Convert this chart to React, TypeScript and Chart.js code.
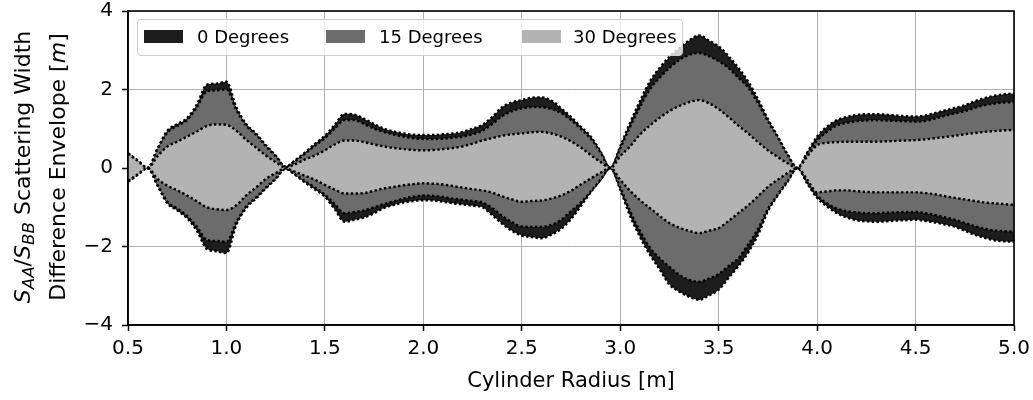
import React, { useEffect, useRef } from 'react';
import { Chart, registerables } from 'chart.js';

Chart.register(...registerables);

// Cylinder radius [m]
const radius = [
  0.5, 0.55, 0.6, 0.65, 0.7, 0.75, 0.8, 0.85, 0.9, 0.95, 1.0, 1.05, 1.1, 1.15, 1.2, 1.25, 1.3,
  1.35, 1.4, 1.45, 1.5, 1.55, 1.6, 1.65, 1.7, 1.75, 1.8, 1.85, 1.9, 1.95, 2.0, 2.05, 2.1, 2.15,
  2.2, 2.25, 2.3, 2.35, 2.4, 2.45, 2.5, 2.55, 2.6, 2.65, 2.7, 2.75, 2.8, 2.85, 2.9, 2.95, 3.0,
  3.05, 3.1, 3.15, 3.2, 3.25, 3.3, 3.35, 3.4, 3.45, 3.5, 3.55, 3.6, 3.65, 3.7, 3.75, 3.8, 3.85,
  3.9, 3.95, 4.0, 4.05, 4.1, 4.15, 4.2, 4.25, 4.3, 4.35, 4.4, 4.45, 4.5, 4.55, 4.6, 4.65, 4.7,
  4.75, 4.8, 4.85, 4.9, 4.95, 5.0,
];

const deg0Upper = [
  0.38, 0.19, 0, 0.5, 0.95, 1.12, 1.27, 1.62, 2.12, 2.15, 2.2, 1.55, 1.12, 0.88, 0.58, 0.32, 0.03,
  0.2, 0.4, 0.62, 0.82, 1.1, 1.38, 1.36, 1.25, 1.12, 1.0, 0.93, 0.88, 0.85, 0.84, 0.84, 0.86, 0.88,
  0.92, 1.0, 1.1, 1.3, 1.55, 1.67, 1.73, 1.79, 1.8, 1.72, 1.52, 1.3, 1.05, 0.8, 0.42, 0,
  0.55, 1.15, 1.7, 2.2, 2.55, 2.83, 3.05, 3.25, 3.38, 3.25, 3.1, 2.85, 2.55, 2.2, 1.75, 1.25, 0.8, 0.35, 0,
  0.4, 0.8, 1.05, 1.22, 1.3, 1.35, 1.37, 1.37, 1.36, 1.34, 1.32, 1.31, 1.34, 1.4, 1.47, 1.53, 1.6,
  1.7, 1.78, 1.84, 1.88, 1.9,
];
const deg0Lower = [
  -0.35, -0.17, 0, -0.45, -0.9, -1.08, -1.28, -1.6, -2.06, -2.12, -2.17, -1.45, -1.02, -0.78, -0.52, -0.28, -0.02,
  -0.18, -0.37, -0.55, -0.73, -1.05, -1.37, -1.32, -1.26, -1.15, -1.02, -0.94, -0.88, -0.84, -0.82, -0.83, -0.86, -0.9,
  -0.93, -0.96, -1.0, -1.2, -1.42, -1.6, -1.72, -1.76, -1.79, -1.7, -1.55, -1.3, -0.97, -0.62, -0.3, 0,
  -0.55, -1.22, -1.75, -2.2, -2.58, -2.97, -3.15, -3.28, -3.36, -3.25, -3.1, -2.8, -2.5, -2.15, -1.7, -1.1, -0.7, -0.35, 0,
  -0.4, -0.76, -0.98, -1.15, -1.26, -1.33, -1.36, -1.37, -1.36, -1.34, -1.33, -1.32, -1.35, -1.39, -1.44, -1.5, -1.6,
  -1.7, -1.78, -1.84, -1.87, -1.88,
];

const deg15Upper = [
  0.37, 0.18, 0, 0.48, 0.9, 1.07, 1.22, 1.55, 1.95, 1.98, 2.0, 1.48, 1.08, 0.85, 0.56, 0.3, 0.03,
  0.18, 0.37, 0.57, 0.76, 1.0, 1.22, 1.22, 1.12, 1.0, 0.92, 0.85, 0.8, 0.76, 0.74, 0.74, 0.75, 0.77,
  0.8, 0.86, 0.95, 1.12, 1.32, 1.45, 1.52, 1.55, 1.55, 1.5, 1.4, 1.22, 1.0, 0.75, 0.4, 0,
  0.5, 1.05, 1.55, 2.0, 2.3, 2.55, 2.75, 2.88, 2.93, 2.85, 2.72, 2.55, 2.3, 2.05, 1.65, 1.2, 0.78, 0.33, 0,
  0.37, 0.7, 0.92, 1.08, 1.15, 1.19, 1.21, 1.22, 1.21, 1.2, 1.19, 1.18, 1.2, 1.26, 1.33, 1.39, 1.45,
  1.53, 1.6, 1.64, 1.67, 1.68,
];
const deg15Lower = [
  -0.34, -0.16, 0, -0.43, -0.86, -1.03, -1.22, -1.5, -1.83, -1.86, -1.88, -1.38, -0.98, -0.75, -0.5, -0.27, -0.02,
  -0.17, -0.34, -0.5, -0.68, -0.92, -1.15, -1.12, -1.08, -1.0, -0.92, -0.85, -0.78, -0.73, -0.7, -0.71, -0.74, -0.78,
  -0.81, -0.84, -0.88, -1.02, -1.22, -1.38, -1.49, -1.5, -1.5, -1.45, -1.32, -1.1, -0.88, -0.6, -0.3, 0,
  -0.5, -1.1, -1.6, -2.02, -2.3, -2.52, -2.72, -2.85, -2.9, -2.82, -2.7, -2.5, -2.3, -1.95, -1.55, -1.05, -0.68, -0.33, 0,
  -0.37, -0.7, -0.9, -1.03, -1.1, -1.13, -1.15, -1.15, -1.14, -1.13, -1.12, -1.12, -1.15, -1.2, -1.26, -1.32, -1.4,
  -1.48, -1.55, -1.59, -1.61, -1.62,
];

const deg30Upper = [
  0.36, 0.18, 0, 0.3, 0.55, 0.67, 0.8, 0.93, 1.07, 1.11, 1.1, 0.95, 0.72, 0.52, 0.32, 0.15, 0.01,
  0.1, 0.22, 0.32, 0.45, 0.6, 0.7, 0.7, 0.66, 0.6, 0.55, 0.51, 0.48, 0.46, 0.45, 0.46, 0.48, 0.51,
  0.55, 0.62, 0.7, 0.76, 0.82, 0.86, 0.88, 0.91, 0.92, 0.88, 0.8, 0.68, 0.52, 0.33, 0.15, 0,
  0.3, 0.55, 0.85, 1.08, 1.28, 1.45, 1.58, 1.68, 1.73, 1.65, 1.5, 1.3, 1.08, 0.88, 0.66, 0.45, 0.28, 0.12, 0,
  0.3, 0.58, 0.64, 0.66, 0.67, 0.67, 0.67, 0.67, 0.68, 0.69, 0.7, 0.71, 0.73, 0.76, 0.79, 0.82, 0.86,
  0.89, 0.92, 0.94, 0.96, 0.97,
];
const deg30Lower = [
  -0.33, -0.16, 0, -0.28, -0.45, -0.57, -0.7, -0.85, -1.0, -1.05, -1.07, -0.95, -0.7, -0.5, -0.28, -0.13, -0.01,
  -0.1, -0.2, -0.3, -0.43, -0.55, -0.65, -0.65, -0.64, -0.58, -0.52, -0.48, -0.44, -0.41, -0.39, -0.4, -0.42, -0.46,
  -0.5, -0.54, -0.57, -0.63, -0.72, -0.8, -0.86, -0.84, -0.83, -0.78, -0.7, -0.58, -0.42, -0.27, -0.12, 0,
  -0.3, -0.58, -0.82, -1.02, -1.22, -1.4, -1.52, -1.6, -1.66, -1.6, -1.53, -1.35, -1.15, -0.95, -0.72, -0.48, -0.3, -0.13, 0,
  -0.3, -0.62, -0.6, -0.57, -0.57, -0.59, -0.61, -0.62, -0.62, -0.62, -0.62, -0.62, -0.64, -0.67, -0.72, -0.76, -0.8,
  -0.84, -0.88, -0.9, -0.92, -0.94,
];

const seriesNames = ['0 Degrees', '15 Degrees', '30 Degrees'];
const seriesColors = ['#1d1d1d', '#6c6c6c', '#b3b3b3'];
const xTicks = [0.5, 1.0, 1.5, 2.0, 2.5, 3.0, 3.5, 4.0, 4.5, 5.0];
const yTicks = [-4, -2, 0, 2, 4];

const FONT = '"DejaVu Sans", "Liberation Sans", sans-serif';

const framePlugin = {
  id: 'frame',
  afterDraw(chart: any) {
    const { ctx, chartArea: a } = chart;
    ctx.save();
    ctx.strokeStyle = '#000';
    ctx.lineWidth = 1.6;
    ctx.strokeRect(a.left, a.top, a.right - a.left, a.bottom - a.top);
    ctx.restore();
  },
};

export default function App() {
  const canvasRef = useRef<HTMLCanvasElement | null>(null);

  useEffect(() => {
    const canvas = canvasRef.current;
    if (!canvas) return;
    const pts = (ys: number[]) => radius.map((x, i) => ({ x, y: ys[i] }));
    const mk = (ys: number[], color: string, fill: any, order: number) => ({
      label: '',
      data: pts(ys),
      borderColor: '#000',
      borderWidth: 2.4,
      borderDash: [2.4, 2.4],
      backgroundColor: color,
      fill,
      pointRadius: 0,
      order,
      cubicInterpolationMode: 'monotone',
    });
    const pairs = [
      [deg0Upper, deg0Lower],
      [deg15Upper, deg15Lower],
      [deg30Upper, deg30Lower],
    ];
    const datasets: any[] = [];
    pairs.forEach((p, i) => {
      datasets.push(mk(p[0], seriesColors[i], '+1', 6 - i * 2));
      datasets.push(mk(p[1], seriesColors[i], false, 5 - i * 2));
    });

    const tickFont = { family: FONT, size: 20 };
    const chart = new Chart(canvas, {
      type: 'line',
      data: { datasets },
      plugins: [framePlugin],
      options: {
        animation: false,
        responsive: false,
        devicePixelRatio: 1,
        layout: { padding: { left: 0, right: 19, top: 11, bottom: 0 } },
        plugins: {
          legend: { display: false },
          tooltip: { enabled: false },
        },
        scales: {
          x: {
            type: 'linear',
            min: 0.5,
            max: 5.0,
            z: 1,
            afterFit: (s: any) => {
              s.height = 75;
              s.paddingLeft = 0;
              s.paddingRight = 0;
            },
            afterBuildTicks: (s: any) => {
              s.ticks = xTicks.map((v) => ({ value: v }));
            },
            ticks: {
              callback: (v: any) => Number(v).toFixed(1),
              color: '#000',
              font: tickFont,
              padding: 6,
              maxRotation: 0,
              autoSkip: false,
            },
            grid: {
              color: '#b0b0b0',
              lineWidth: 1,
              tickColor: '#000',
              tickLength: 6,
              tickWidth: 1.5,
            },
            border: { display: true, color: '#000', width: 1.6 },
            title: {
              display: true,
              text: 'Cylinder Radius [m]',
              color: '#000',
              font: { family: FONT, size: 21 },
              padding: { top: 0, bottom: 6 },
            },
          },
          y: {
            type: 'linear',
            min: -4,
            max: 4,
            z: 1,
            afterFit: (s: any) => {
              s.width = 128;
              s.paddingTop = 0;
              s.paddingBottom = 0;
            },
            afterBuildTicks: (s: any) => {
              s.ticks = yTicks.map((v) => ({ value: v }));
            },
            ticks: {
              callback: (v: any) => (Number(v) < 0 ? '\u2212' + Math.abs(Number(v)) : String(v)),
              color: '#000',
              font: tickFont,
              padding: 9,
              autoSkip: false,
            },
            grid: {
              color: '#b0b0b0',
              lineWidth: 1,
              tickColor: '#000',
              tickLength: 6,
              tickWidth: 1.5,
            },
            border: { display: true, color: '#000', width: 1.6 },
          },
        },
      } as any,
    } as any);
    return () => chart.destroy();
  }, []);

  const legendSwatchLeft = [6, 188, 384];
  const legendTextLeft = [59, 241, 435];

  const sub: React.CSSProperties = { fontSize: '0.76em', verticalAlign: '-0.26em', fontStyle: 'italic' };

  return (
    <div style={{ position: 'fixed', left: 0, top: 0, width: 1033, height: 400, background: '#fff', fontFamily: FONT }}>
      <canvas ref={canvasRef} width={1033} height={400} style={{ width: 1033, height: 400, display: 'block' }} />
      <div
        style={{
          position: 'absolute',
          left: 137,
          top: 19,
          width: 546,
          height: 37,
          boxSizing: 'border-box',
          border: '1px solid #cccccc',
          borderRadius: 4,
          background: 'rgba(255,255,255,0.8)',
          color: '#000',
          fontSize: 18,
        }}
      >
        {seriesNames.map((name, i) => (
          <React.Fragment key={name}>
            <div
              style={{
                position: 'absolute',
                left: legendSwatchLeft[i],
                top: 10,
                width: 39,
                height: 13,
                background: seriesColors[i],
              }}
            />
            <div style={{ position: 'absolute', left: legendTextLeft[i], top: 5, lineHeight: '24px', whiteSpace: 'nowrap' }}>
              {name}
            </div>
          </React.Fragment>
        ))}
      </div>
      <div
        style={{
          position: 'absolute',
          left: 37.5 - 170,
          top: 167 - 30,
          width: 340,
          height: 60,
          transform: 'rotate(-90deg)',
          transformOrigin: '50% 50%',
          textAlign: 'center',
          fontSize: 22,
          lineHeight: '29px',
          color: '#000',
          whiteSpace: 'nowrap',
        }}
      >
        <div>
          <i>S</i>
          <span style={sub}>AA</span>/<i>S</i>
          <span style={sub}>BB</span> Scattering Width
        </div>
        <div>
          Difference Envelope [<i>m</i>]
        </div>
      </div>
    </div>
  );
}
